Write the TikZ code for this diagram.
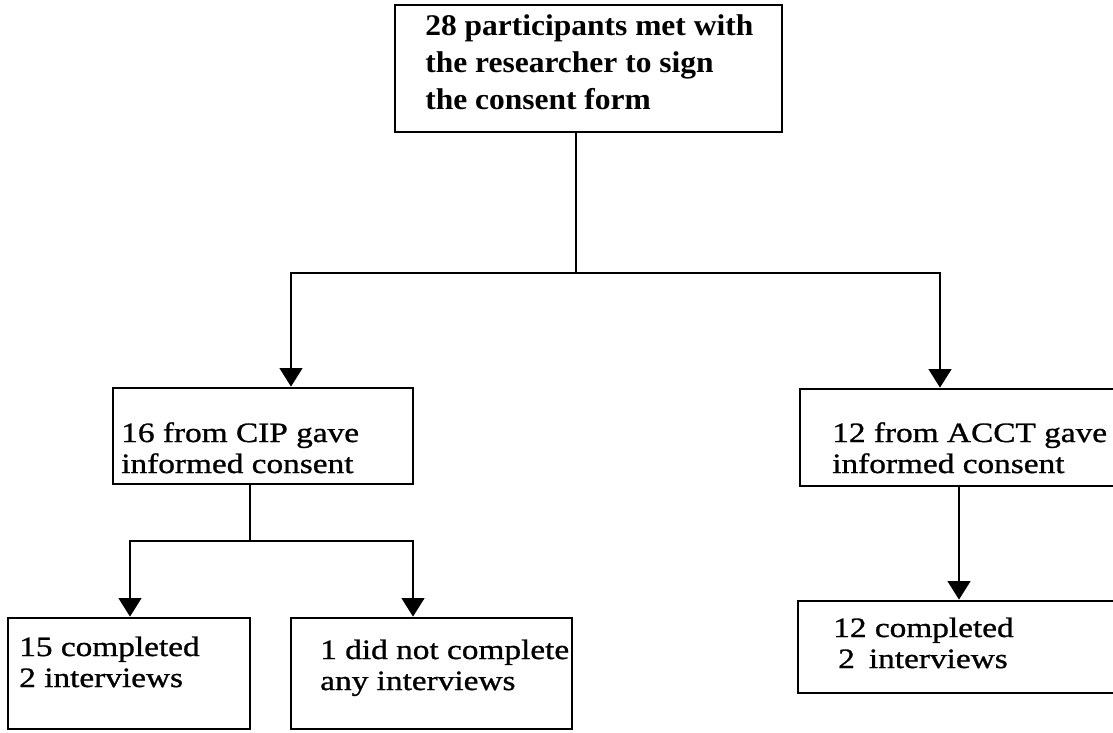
\documentclass[tikz,border=0pt]{standalone}
\usepackage{fontspec}
\setmainfont{Liberation Serif}
\newfontfamily\scanfont[FakeStretch=1.19,FakeBold=1]{Liberation Serif}
\newfontfamily\scanbold[FakeStretch=1.05]{Liberation Serif}
\usetikzlibrary{positioning,arrows.meta,fit}
\setlength{\lineskiplimit}{-100pt}
\tikzset{
    stepbox/.style={draw=black,line width=2pt,rectangle,inner sep=0pt},
    boxtext/.style={anchor=base west,inner sep=0pt,align=left,
        font=\scanfont\fontsize{21pt}{23.25pt}\selectfont},
    boldtext/.style={anchor=base west,inner sep=0pt,align=left,
        font=\scanbold\bfseries\fontsize{22.5pt}{27.4pt}\selectfont},
    link/.style={draw=black,line width=2pt,line cap=rect},
    arrow/.style={-{Triangle[width=17pt,length=14pt]},draw=black,line width=2pt,line cap=rect}
}
\begin{document}
\begin{tikzpicture}[x=0.75pt,y=-0.75pt]
        \useasboundingbox (0,0) rectangle (1113,732);
        \node[stepbox,fit={(395,5) (782,132)}] (recruit) {};
        \node[stepbox,fit={(113,388) (413,484)}] (cip) {};
        \node[stepbox,fit={(800,389) (1125,486)}] (acct) {};
        \node[stepbox,fit={(8,618) (250,729)}] (cipdone) {};
        \node[stepbox,fit={(291,618) (572,729)}] (cipnone) {};
        \node[stepbox,fit={(798,601) (1125,693)}] (acctdone) {};
        \node[boldtext] (recruittxt) at (425,109) {28 participants met with\\the researcher to sign\\the consent form};
        \node[boxtext] (ciptxt) at (121,473) {16 from CIP gave\\informed consent};
        \node[boxtext] (accttxt) at (832,473) {12 from ACCT gave\\informed consent};
        \node[boxtext] (cipdonetxt) at (19,687) {15 completed\\2 interviews};
        \node[boxtext] (cipnonetxt) at (320,690) {1 did not complete\\any interviews};
        \node[boxtext] (acctdonetxt) at (833,668) {12 completed\\\hspace{3.75pt}2\hspace{0.5em}interviews};
        \coordinate (split) at (576,273);
        \coordinate (toCIP) at (291,273);
        \coordinate (toACCT) at (940,273);
        \coordinate (cipsplit) at (250,541);
        \coordinate (toDone) at (130,541);
        \coordinate (toNone) at (413,541);
        \coordinate (acctstem) at (959,486);
        \draw[link] (recruit.south -| split) -- (split);
        \draw[link] (toCIP) -- (toACCT);
        \draw[arrow] (toCIP) -- (toCIP |- cip.north);
        \draw[arrow] (toACCT) -- (toACCT |- acct.north);
        \draw[link] (cip.south -| cipsplit) -- (cipsplit);
        \draw[link] (toDone) -- (toNone);
        \draw[arrow] (toDone) -- (toDone |- cipdone.north);
        \draw[arrow] (toNone) -- (toNone |- cipnone.north);
        \draw[arrow] (acct.south -| acctstem) -- (acctstem |- acctdone.north);
    \end{tikzpicture}
\end{document}
